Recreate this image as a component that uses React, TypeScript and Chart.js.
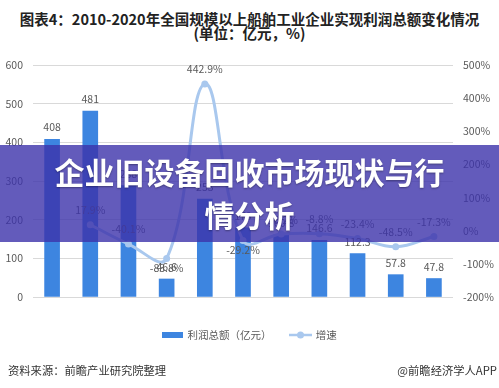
import React, { useEffect, useRef } from 'react';
import { Chart, registerables } from 'chart.js';

Chart.register(...registerables);

const categories = ['2010年', '2011年', '2012年', '2013年', '2014年', '2015年', '2016年', '2017年', '2018年', '2019年', '2020年'];
const profit = [408, 481, 288, 46.6, 253, 179, 160.8, 146.6, 112.3, 57.8, 47.8];
const profitLabels = ['408', '481', '288', '46.6', '253', '179', '160.8', '146.6', '112.3', '57.8', '47.8'];
const growth: (number | null)[] = [null, 17.9, -40.1, -83.8, 442.9, -29.2, -10.2, -8.8, -23.4, -48.5, -17.3];
const growthLabelBelow = [false, false, false, true, false, true, false, false, false, false, false];
const leftTicks = [0, 100, 200, 300, 400, 500, 600];
const rightTicks = [-200, -100, 0, 100, 200, 300, 400, 500];
const seriesNames = ['利润总额（亿元）', '增速'];

const FONT = '"Noto Sans CJK SC", "Noto Sans", sans-serif';
const BAR_COLOR = '#3d85e0';
const LINE_COLOR = '#a9c8ee';
const TEXT_COLOR = '#595959';

const labelPlugin = {
  id: 'valueLabels',
  afterDatasetsDraw(chart: any) {
    const ctx = chart.ctx;
    ctx.save();
    ctx.font = `10.5px ${FONT}`;
    ctx.fillStyle = TEXT_COLOR;
    ctx.textAlign = 'center';
    ctx.textBaseline = 'middle';
    const barMeta = chart.getDatasetMeta(0);
    barMeta.data.forEach((el: any, i: number) => {
      ctx.fillText(profitLabels[i], el.x, el.y - 12);
    });
    const lineMeta = chart.getDatasetMeta(1);
    lineMeta.data.forEach((el: any, i: number) => {
      const v = growth[i];
      if (v == null) return;
      const y = growthLabelBelow[i] ? el.y + 10 : el.y - 14.5;
      ctx.fillText(`${v}%`, el.x, y);
    });
    ctx.restore();
  },
};

function makeBarSwatch() {
  const c = document.createElement('canvas');
  c.width = 21;
  c.height = 6;
  const g = c.getContext('2d')!;
  g.fillStyle = BAR_COLOR;
  g.fillRect(0, 0, 21, 6);
  return c;
}

function makeLineSwatch() {
  const c = document.createElement('canvas');
  c.width = 23;
  c.height = 8;
  const g = c.getContext('2d')!;
  g.strokeStyle = LINE_COLOR;
  g.lineWidth = 2.5;
  g.beginPath();
  g.moveTo(0, 4);
  g.lineTo(23, 4);
  g.stroke();
  g.fillStyle = LINE_COLOR;
  g.beginPath();
  g.arc(11.5, 4, 3.5, 0, Math.PI * 2);
  g.fill();
  return c;
}

export default function App() {
  const ref = useRef<HTMLCanvasElement>(null);

  useEffect(() => {
    if (!ref.current) return;
    const swatches = [makeBarSwatch(), makeLineSwatch()];
    const chart = new Chart(ref.current, {
      type: 'bar',
      data: {
        labels: categories,
        datasets: [
          {
            type: 'bar',
            label: seriesNames[0],
            data: profit,
            backgroundColor: BAR_COLOR,
            barThickness: 15,
            yAxisID: 'y',
            order: 1,
          } as any,
          {
            type: 'line',
            label: seriesNames[1],
            data: growth,
            borderColor: LINE_COLOR,
            backgroundColor: LINE_COLOR,
            borderWidth: 3,
            pointRadius: 3.5,
            pointBorderWidth: 0,
            pointBackgroundColor: LINE_COLOR,
            tension: 0.4,
            yAxisID: 'y1',
            order: 0,
          } as any,
        ],
      },
      options: {
        animation: false,
        responsive: false,
        maintainAspectRatio: false,
        layout: { padding: { top: 65, bottom: 37.75, left: 0, right: 0 } },
        plugins: {
          tooltip: { enabled: false },
          legend: {
            position: 'bottom',
            labels: {
              usePointStyle: true,
              pointStyleWidth: 20,
              padding: 19,
              color: TEXT_COLOR,
              font: { size: 10.5, family: FONT },
              generateLabels: () =>
                seriesNames.map((name, i) => ({
                  text: name,
                  pointStyle: swatches[i] as any,
                  datasetIndex: i,
                  hidden: false,
                  fillStyle: i === 0 ? BAR_COLOR : LINE_COLOR,
                  strokeStyle: i === 0 ? BAR_COLOR : LINE_COLOR,
                  lineWidth: 0,
                  fontColor: TEXT_COLOR,
                })) as any,
            },
          },
        },
        scales: {
          x: {
            grid: { display: false },
            border: { display: false },
            ticks: {
              color: TEXT_COLOR,
              font: { size: 10.5, family: FONT },
              padding: 9,
              maxRotation: 0,
              autoSkip: false,
            },
            afterFit: (s: any) => {
              s.height = 13.75;
            },
          },
          y: {
            position: 'left',
            min: 0,
            max: 600,
            afterBuildTicks: (s: any) => {
              s.ticks = leftTicks.map((v) => ({ value: v }));
            },
            ticks: { color: TEXT_COLOR, font: { size: 10.5, family: FONT }, padding: 10 },
            grid: { color: '#d9d9d9', drawTicks: false, lineWidth: 1 },
            border: { display: false },
            afterFit: (s: any) => {
              s.width = 33;
            },
          },
          y1: {
            position: 'right',
            min: -200,
            max: 500,
            afterBuildTicks: (s: any) => {
              s.ticks = rightTicks.map((v) => ({ value: v }));
            },
            ticks: {
              color: TEXT_COLOR,
              font: { size: 10.5, family: FONT },
              padding: 10,
              callback: (v: any) => `${v}%`,
            },
            grid: { display: false, drawTicks: false },
            border: { display: false },
            afterFit: (s: any) => {
              s.width = 46;
            },
          },
        },
      } as any,
      plugins: [labelPlugin],
    });
    return () => chart.destroy();
  }, []);

  return (
    <div style={{ position: 'absolute', left: 0, top: 0, width: 499, height: 388, background: '#fff', overflow: 'hidden', fontFamily: FONT }}>
      <div
        style={{
          position: 'absolute',
          left: 0,
          top: 12,
          width: 499,
          textAlign: 'center',
          fontSize: 14.5,
          fontWeight: 700,
          lineHeight: '14px',
          color: '#222',
          whiteSpace: 'nowrap',
        }}
      >
        图表4：2010-2020年全国规模以上船舶工业企业实现利润总额变化情况
        <br />
        (单位：亿元，%)
      </div>
      <canvas ref={ref} width={499} height={388} style={{ position: 'absolute', left: 0, top: 0, width: 499, height: 388 }} />
      <div
        style={{
          position: 'absolute',
          left: 0,
          top: 145,
          width: 499,
          height: 97,
          background: 'rgba(60,50,170,0.8)',
          color: '#fff',
          textAlign: 'center',
          fontSize: 30,
          fontWeight: 700,
          lineHeight: '43px',
          paddingTop: 5,
          boxSizing: 'border-box',
          textShadow: '0 1px 2px rgba(0,0,0,0.35)',
          whiteSpace: 'nowrap',
        }}
      >
        企业旧设备回收市场现状与行
        <br />
        情分析
      </div>
      <div style={{ position: 'absolute', left: 8, top: 362, fontSize: 11.3, color: '#333', lineHeight: '16px' }}>资料来源：前瞻产业研究院整理</div>
      <div style={{ position: 'absolute', right: 2, top: 362, fontSize: 11.3, color: '#333', lineHeight: '16px' }}>@前瞻经济学人APP</div>
    </div>
  );
}
